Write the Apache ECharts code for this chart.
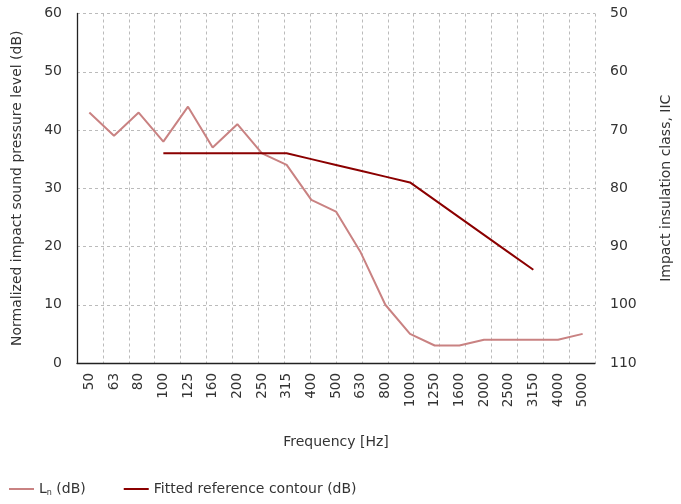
<!DOCTYPE html>
<html>
<head>
<meta charset="utf-8">
<script src="https://cdn.jsdelivr.net/npm/echarts@6/dist/echarts.min.js"></script>
<style>html,body{margin:0;padding:0;background:#fff}#c{width:681px;height:504px}</style>
</head>
<body>
<div id="c"></div>
<script>
const frequencies = ['50','63','80','100','125','160','200','250','315','400','500','630','800','1000','1250','1600','2000','2500','3150','4000','5000'];
const lnValues = [43,39,43,38,44,37,41,36,34,28,26,19,10,5,3,3,4,4,4,4,5];
const contourValues = [null,null,null,36,36,36,36,36,36,35,34,33,32,31,28,25,22,19,16,null,null];
const leftTicks = {min:0, max:60, interval:10};
const rightTicks = {min:50, max:110, interval:10};

const FONT = 'DejaVu Sans';
const TXT = '#333';
const chart = echarts.init(document.getElementById('c'), null, {renderer:'canvas'});
chart.setOption({
  animation:false,
  textStyle:{fontFamily:FONT},
  grid:{left:77, right:74, top:13.5, bottom:141, containLabel:false},
  legend:{
    left:4, top:477, itemGap:38, itemWidth:25, itemHeight:2, icon:'rect',
    textStyle:{fontFamily:FONT, fontSize:14, color:TXT,
      rich:{sub:{fontSize:8, verticalAlign:'bottom', padding:[8,0,0,0], fontFamily:FONT, color:TXT}, n:{fontSize:14,fontFamily:FONT,color:TXT}}},
    formatter:function(name){ return name==='Ln (dB)' ? '{n|L}{sub|n}{n| (dB)}' : name; },
    data:['Ln (dB)','Fitted reference contour (dB)']
  },
  xAxis:[{
    type:'category', data:frequencies, boundaryGap:true, position:'bottom',
    axisLine:{lineStyle:{color:'#222', width:1.3}},
    axisTick:{show:false},
    splitLine:{show:false},
    axisLabel:{rotate:90, fontSize:13.5, color:TXT, margin:10, fontFamily:FONT},
    name:'Frequency [Hz]', nameLocation:'middle', nameGap:72,
    nameTextStyle:{fontSize:14, color:TXT, fontFamily:FONT}
  },{
    type:'value', min:0, max:20, interval:1, position:'top',
    axisLine:{show:false}, axisTick:{show:false}, axisLabel:{show:false},
    splitLine:{show:true, lineStyle:{type:[3,3], color:'#bbb', width:1}}
  }],
  yAxis:[{
    type:'value', min:leftTicks.min, max:leftTicks.max, interval:leftTicks.interval, position:'left',
    axisLine:{show:true, lineStyle:{color:'#222', width:1.3}},
    axisTick:{show:false},
    axisLabel:{fontSize:14, color:TXT, margin:15, fontFamily:FONT},
    splitLine:{show:true, lineStyle:{type:[3,3], color:'#bbb', width:1}},
    name:'Normalized impact sound pressure level (dB)', nameLocation:'middle', nameGap:53,
    nameTextStyle:{fontSize:14, color:TXT, fontFamily:FONT}
  },{
    type:'value', min:rightTicks.min, max:rightTicks.max, interval:rightTicks.interval, inverse:true, position:'right',
    axisLine:{show:false}, axisTick:{show:false},
    axisLabel:{fontSize:14, color:TXT, margin:15, fontFamily:FONT},
    splitLine:{show:false},
    name:'Impact insulation class, IIC', nameLocation:'middle', nameGap:64, nameRotate:90,
    nameTextStyle:{fontSize:14, color:TXT, fontFamily:FONT}
  }],
  series:[{
    name:'Ln (dB)', type:'line', data:lnValues, xAxisIndex:0, yAxisIndex:0,
    symbol:'none', lineStyle:{color:'#c98282', width:2}, itemStyle:{color:'#c98282'}
  },{
    name:'Fitted reference contour (dB)', type:'line', data:contourValues, xAxisIndex:0, yAxisIndex:0,
    symbol:'none', connectNulls:false, lineStyle:{color:'#8b0000', width:2}, itemStyle:{color:'#8b0000'}
  }]
});
</script>
</body>
</html>
